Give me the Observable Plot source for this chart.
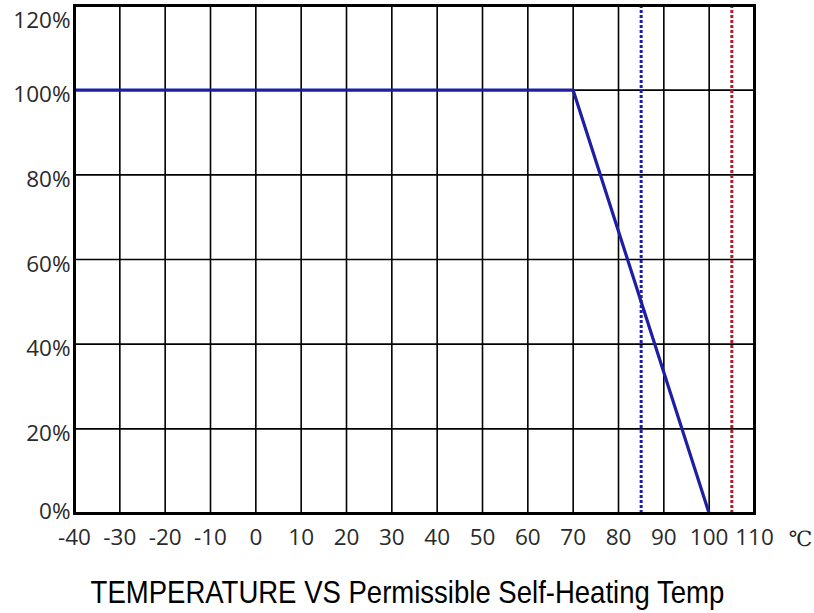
<!DOCTYPE html>
<html>
<head>
<meta charset="utf-8">
<script src="https://cdn.jsdelivr.net/npm/d3@7"></script>
<script src="https://cdn.jsdelivr.net/npm/@observablehq/plot@0.6"></script>
<style>
  html, body { margin: 0; padding: 0; background: #fff; }
  #wrap { position: relative; width: 814px; height: 613px; }
  #title { position: absolute; left: 0; width: 814px; top: 576px; text-align: center;
    font-family: "Liberation Sans", Arial, sans-serif; font-size: 32px; line-height: 32px; color: #000; }
  #title span { display: inline-block; transform: scaleX(0.86); transform-origin: center; white-space: nowrap; }
</style>
</head>
<body>
<div id="wrap">
  <div id="chart"></div>
  <div id="title"><span>TEMPERATURE VS Permissible Self-Heating Temp</span></div>
</div>
<script>
const xTicks = [-40, -30, -20, -10, 0, 10, 20, 30, 40, 50, 60, 70, 80, 90, 100, 110];
const yTicks = [0, 20, 40, 60, 80, 100, 120];
const curveTemp = [-40, 70, 100];
const curveLoad = [100, 100, 0];
const markerTemps = [85, 105];
const markerColors = ["#1c1cb0", "#b01c2c"];
const unitLabel = "℃";

const curve = curveTemp.map((t, i) => ({t, p: curveLoad[i]}));
const labelStyle = {tickSize: 0, fontSize: 22.5, fontFamily: "Open Sans", fill: "#2a2a2a", label: null};

const chart = Plot.plot({
  width: 814,
  height: 560,
  marginLeft: 74,
  marginRight: 60,
  marginTop: 5,
  marginBottom: 47,
  style: {background: "#fff", overflow: "visible"},
  x: {domain: [-40, 110], ticks: xTicks},
  y: {domain: [0, 120], ticks: yTicks},
  marks: [
    Plot.ruleX(xTicks, {stroke: "#000", strokeWidth: 1.6}),
    Plot.ruleY(yTicks, {stroke: "#000", strokeWidth: 1.6}),
    Plot.ruleX([markerTemps[0]], {stroke: markerColors[0], strokeWidth: 3, strokeDasharray: "3,2"}),
    Plot.ruleX([markerTemps[1]], {stroke: markerColors[1], strokeWidth: 3, strokeDasharray: "3,2"}),
    Plot.line(curve, {x: "t", y: "p", stroke: "#1e1ea4", strokeWidth: 3.2}),
    Plot.frame({stroke: "#000", strokeWidth: 3}),
    Plot.axisX({...labelStyle, ticks: xTicks, tickPadding: 16, tickFormat: d => String(d)}),
    Plot.axisY({...labelStyle, ticks: yTicks.slice(1, 6), tickPadding: 4, dy: 5, tickFormat: d => d + "%"}),
    Plot.axisY({...labelStyle, ticks: yTicks.slice(6), tickPadding: 4, dy: 15, tickFormat: d => d + "%"}),
    Plot.axisY({...labelStyle, ticks: yTicks.slice(0, 1), tickPadding: 4, dy: -2, tickFormat: d => d + "%"}),
    Plot.text([unitLabel], {frameAnchor: "bottom-right", dx: 46, dy: 32, textAnchor: "middle",
      fontFamily: "DejaVu Serif, Liberation Serif, serif", fontSize: 21, fill: "#222"})
  ]
});
document.getElementById("chart").appendChild(chart);
</script>
</body>
</html>
